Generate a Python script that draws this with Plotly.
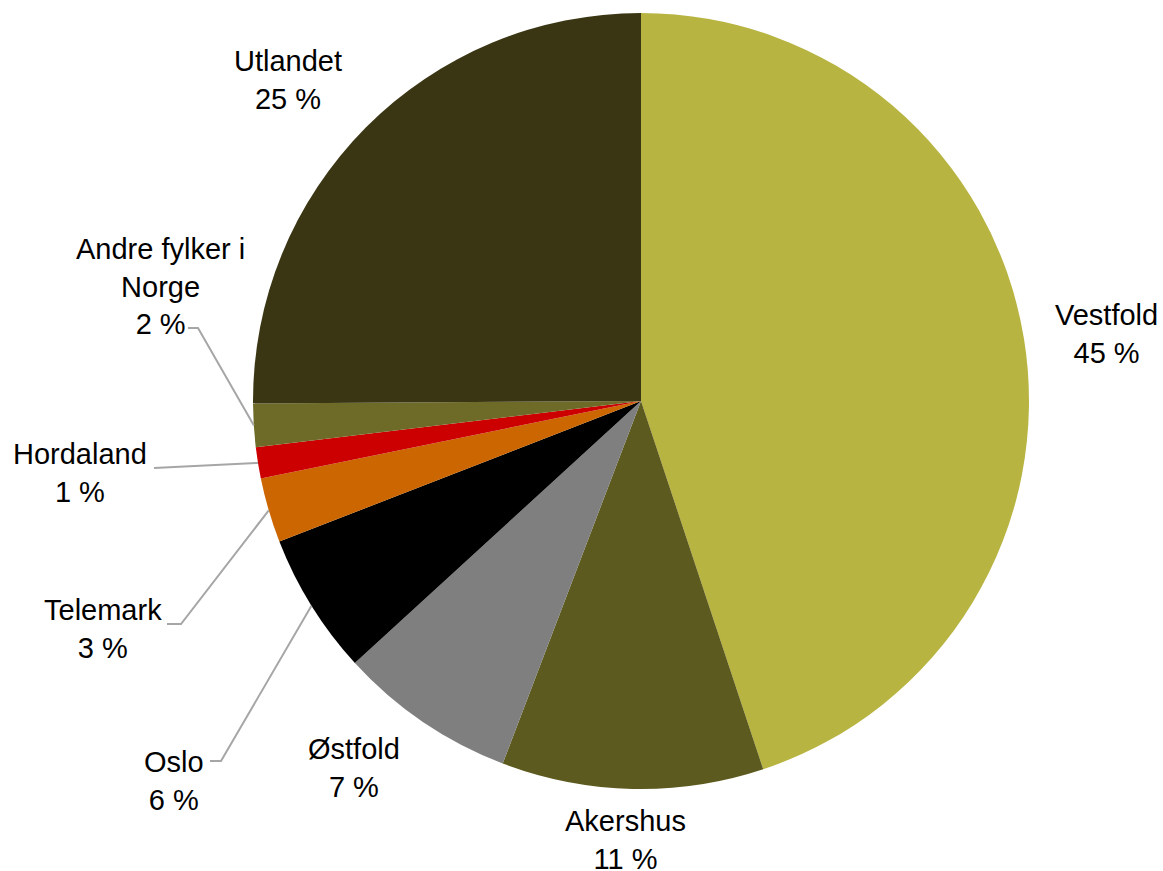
import math
import plotly.graph_objects as go

# Share of respondents by home region (percent)
regions = ["Vestfold", "Akershus", "Østfold", "Oslo", "Telemark",
           "Hordaland", "Andre fylker i Norge", "Utlandet"]
shares = [44.9, 10.9, 7.4, 5.9, 2.7, 1.3, 1.8, 25.1]
label_text = ["Vestfold", "Akershus", "Østfold", "Oslo", "Telemark",
              "Hordaland", "Andre fylker i<br>Norge", "Utlandet"]
colors = ["#B8B442", "#5C5A1E", "#7F7F7F", "#000000", "#CC6600",
          "#CC0000", "#6E6B28", "#3A3613"]

W, H = 1163, 871
CX, CY, R = 641, 401, 388  # pie centre and radius in pixels

# label block centres (px)
label_pos = {
    "Vestfold": (1106, 334),
    "Akershus": (625, 840),
    "Østfold": (354, 768),
    "Oslo": (174, 781),
    "Telemark": (103, 629),
    "Hordaland": (80, 473),
    "Andre fylker i Norge": (160, 286),
    "Utlandet": (288, 80),
}
# leader line elbows (px); the line then runs to the slice edge
leader_start = {
    "Oslo": [(210, 761), (221, 761)],
    "Telemark": [(167, 624), (181, 624)],
    "Hordaland": [(154, 468)],
    "Andre fylker i Norge": [(188, 328), (198, 328)],
}


def px(x):
    return x / W


def py(y):
    return 1 - y / H


fig = go.Figure(go.Pie(
    labels=regions,
    values=shares,
    sort=False,
    direction="clockwise",
    rotation=0,
    marker=dict(colors=colors, line=dict(width=0)),
    textinfo="none",
    textposition="none",
    hoverinfo="label+percent",
    domain=dict(x=[px(CX - R), px(CX + R)], y=[py(CY + R), py(CY - R)]),
    showlegend=False,
))

total = sum(shares)
cum = 0.0
shapes = []
annotations = []
for name, txt, v in zip(regions, label_text, shares):
    mid = (cum + v / 2) / total * 2 * math.pi
    cum += v
    pct = round(v / total * 100)
    lx, ly = label_pos[name]
    annotations.append(dict(
        x=px(lx), y=py(ly), xref="paper", yref="paper",
        text=f"{txt}<br>{pct} %", showarrow=False,
        font=dict(family="Liberation Sans, Arial, sans-serif", size=29, color="#000000"),
        align="center", xanchor="center", yanchor="middle",
    ))
    if name in leader_start:
        ex = CX + R * math.sin(mid)
        ey = CY - R * math.cos(mid)
        pts = leader_start[name] + [(ex, ey)]
        path = "M " + " L ".join(f"{px(x):.5f},{py(y):.5f}" for x, y in pts)
        shapes.append(dict(type="path", path=path, xref="paper", yref="paper",
                           line=dict(color="#A6A6A6", width=2)))

fig.update_layout(
    width=W, height=H,
    margin=dict(l=0, r=0, t=0, b=0),
    paper_bgcolor="#FFFFFF",
    plot_bgcolor="#FFFFFF",
    shapes=shapes,
    annotations=annotations,
)

fig.write_html("out.html")
